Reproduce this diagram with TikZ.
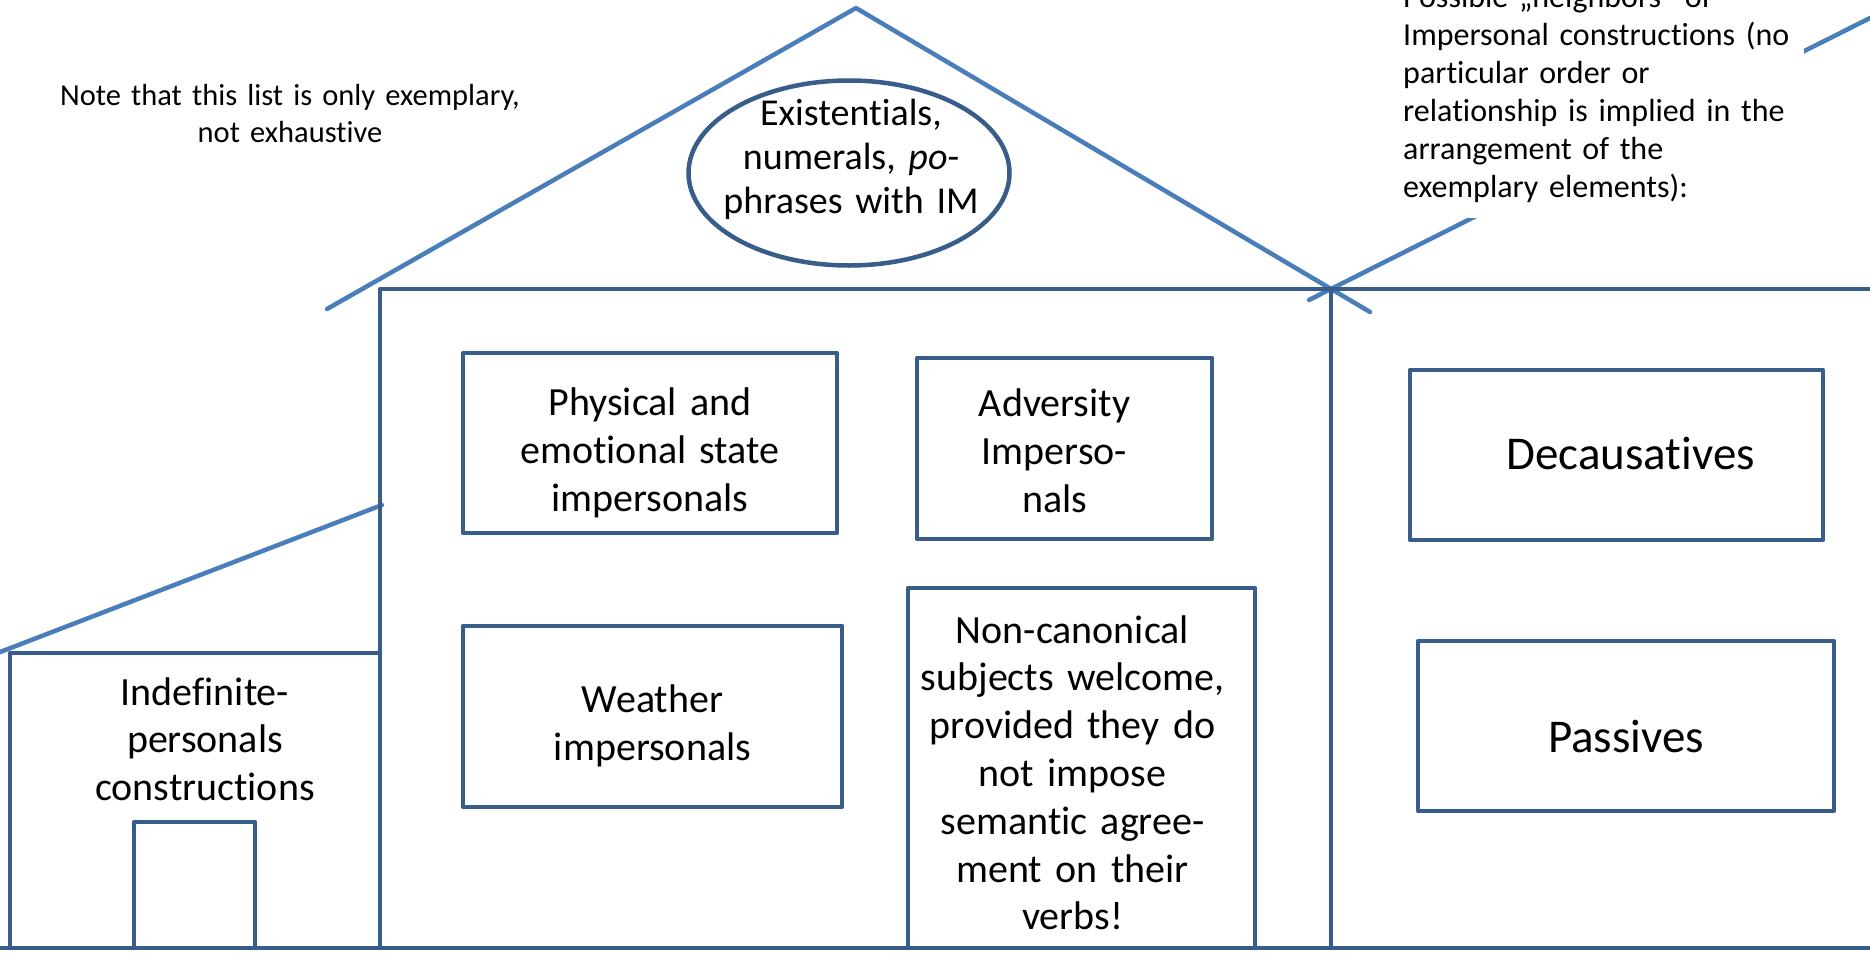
\documentclass[tikz,border=0pt]{standalone}
\usepackage{fontspec}
\setmainfont{Carlito}[Ligatures={TeX,NoCommon,NoContextual},Contextuals=NoAlternate]
\usetikzlibrary{shapes.geometric}
\definecolor{roofblue}{RGB}{74,126,187}
\definecolor{wallblue}{RGB}{56,93,138}
\newcommand\nudge[1]{\rule{#1}{0pt}}
\tikzset{
  wall/.style={draw=wallblue, line width=4.5pt},
  roof/.style={draw=roofblue, line width=4.5pt, line cap=round},
  kind/.style={rectangle, draw=wallblue, line width=4.5pt, inner sep=0pt,
    align=center, font=\fontsize{40}{48}\selectfont},
  bigkind/.style={kind, font=\fontsize{47}{56}\selectfont},
  remark/.style={inner sep=0pt, font=\fontsize{32}{38}\selectfont},
}
\begin{document}
\begin{tikzpicture}[x=1pt, y=-1pt, line join=round]
	\useasboundingbox (0,0) rectangle (1870,953);
	\clip (0,0) rectangle (1870,953);
	\path
	(856,8) coordinate (A)
	(327,309) coordinate (eL)
	(1370,312) coordinate (eR)
	(380,289) coordinate (M1)
	(1331,289) coordinate (M2)
	(1309,300) coordinate (n1)
	(1890,8) coordinate (n2)
	(-5,654) coordinate (s1)
	(382,505) coordinate (s2);
	% roofs
	\draw[roof] (eL) -- (A) -- (eR);
	\draw[roof] (n1) -- (n2);
	\draw[roof] (s1) -- (s2);
	% walls, side house, door
	\draw[wall] (380,948) -- (M1) -- (M2) -- (1331,948);
	\draw[wall] (M2) -- (1880,289);
	\draw[wall] (0,948) -- (1870,948);
	\draw[wall] (10,948) -- (10,653) -- (380,653);
	\draw[wall] (134,948) -- (134,822) -- (255,822) -- (255,948);
	% notes
	\node[remark, text width=560pt, align=center, anchor=base,
	font=\fontsize{30.5}{37}\selectfont] (note) at (290,105)
	{Note that this list is only exemplary,\\ not exhaustive};
	\node[remark, fill=white, text width=388pt, align=left, inner xsep=13pt,
	inner ysep=16pt, anchor=base west] (neighb) at (1390,7)
	{Possible „neighbors“ of\\ Impersonal constructions (no\\ particular order or\\
		relationship is implied in the\\ arrangement of the\\ exemplary elements):};
	% attic
	\node[ellipse, draw=wallblue, line width=4.5pt, inner sep=0pt,
	minimum width=321pt, minimum height=185pt] (exist) at (849,173) {};
	\node[inner sep=0pt, text width=320pt, align=center, anchor=base,
	font=\fontsize{38}{44}\selectfont] (existtext) at (851,125)
	{Existentials,\\ numerals, \textit{po}-\\ phrases with IM};
	% main house
	\node[kind, minimum width=374pt, minimum height=180pt, text width=360pt,
	text height=50pt, text depth=106pt] (phys) at (650,443)
	{Physical and\\ emotional state\\ impersonals};
	\node[kind, minimum width=295pt, minimum height=181pt, text width=280pt,
	text height=41pt, text depth=106pt] (adv) at (1064.5,448.5)
	{Adversity\nudge{20pt}\\ Imperso-\nudge{20pt}\\ nals\nudge{20pt}};
	\node[kind, minimum width=379pt, minimum height=181pt, text width=360pt,
	text height=49pt, text depth=58pt] (weather) at (652.5,716.5)
	{Weather\\ impersonals};
	\node[kind, minimum width=347pt, minimum height=360pt, text width=334pt,
	text height=48pt, text depth=298pt, font=\fontsize{40}{47.8}\selectfont]
	(noncanon) at (1081.5,768)
	{Non-canonical\nudge{18pt}\\ subjects welcome,\nudge{18pt}\\
		provided they do\nudge{18pt}\\ not impose\nudge{18pt}\\
		semantic agree-\nudge{18pt}\\ ment on their\nudge{18pt}\\ verbs!\nudge{18pt}};
	% side house
	\node[inner sep=0pt, text width=300pt, align=center, anchor=base,
	font=\fontsize{40}{47.5}\selectfont] (indef) at (205,705)
	{Indefinite-\\ personals\\ constructions};
	% neighbour house
	\node[bigkind, minimum width=413pt, minimum height=170pt, text width=400pt,
	text height=38pt, text depth=10pt] (decaus) at (1616.5,455)
	{\nudge{28pt}Decausatives};
	\node[bigkind, minimum width=416pt, minimum height=170pt, text width=400pt,
	text height=62pt, text depth=10pt] (pass) at (1626,726) {Passives};
\end{tikzpicture}
\end{document}
